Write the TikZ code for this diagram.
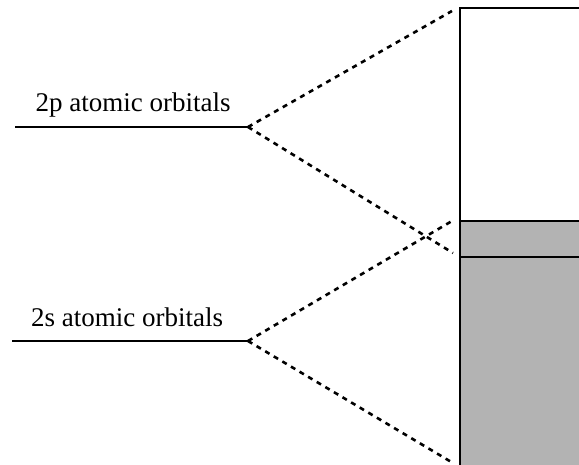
\documentclass[tikz,border=0pt]{standalone}
\usepackage{fontspec}
\setmainfont{Liberation Serif}
\definecolor{bandgray}{RGB}{179,179,179}
\begin{document}
\begin{tikzpicture}[x=1pt,y=-1pt,
  level/.style={line width=2.2pt},
  link/.style={line width=2.6pt,dash pattern=on 5pt off 5pt},
  boxline/.style={line width=2.4pt},
  lab/.style={font=\fontsize{27}{32}\selectfont,anchor=base,inner sep=0pt}]
\useasboundingbox (0,0) rectangle (579,465);
% band
\fill[bandgray] (460,221) rectangle (579,465);
\draw[boxline] (579,8) -- (460,8) -- (460,465);
\draw[boxline] (460,221) -- (579,221);
\draw[boxline] (460,257) -- (579,257);
% levels
\coordinate (pA) at (15,127);
\coordinate (pB) at (248,127);
\coordinate (sA) at (12,341);
\coordinate (sB) at (248,341);
\draw[level] (pA) -- (pB);
\draw[level] (sA) -- (sB);
\node[lab] (plab) at (133,112) {2p atomic orbitals};
\node[lab] (slab) at (127,327) {2s atomic orbitals};
% band end points
\coordinate (t1) at (452,11);
\coordinate (t2) at (453,253);
\coordinate (b1) at (452,221);
\coordinate (b2) at (453,463);
\draw[link] (pB) -- (t1);
\draw[link] (pB) -- (t2);
\draw[link] (sB) -- (b1);
\draw[link] (sB) -- (b2);
\end{tikzpicture}
\end{document}
